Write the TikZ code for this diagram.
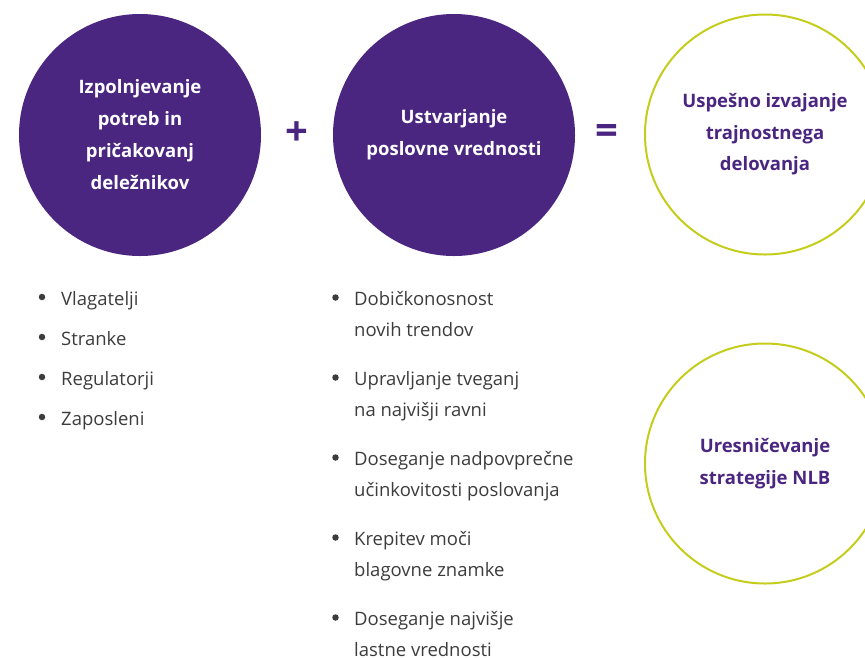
\documentclass[tikz,border=0pt]{standalone}
\usepackage{fontspec}
\setmainfont{Open Sans}
\usetikzlibrary{positioning}

\definecolor{nlbpurple}{RGB}{74,38,128}
\definecolor{nlblime}{RGB}{196,205,28}
\definecolor{listgray}{RGB}{60,60,60}

\begin{document}
\begin{tikzpicture}[
    x=1pt, y=-1pt,
    fullcircle/.style={circle, fill=nlbpurple, minimum size=242pt, inner sep=0pt, text=white, align=center, font=\bfseries\fontsize{18.5pt}{32pt}\selectfont},
    ringcircle/.style={circle, draw=nlblime, line width=2pt, minimum size=240pt, inner sep=0pt, text=nlbpurple, align=center, font=\bfseries\fontsize{18.5pt}{31.5pt}\selectfont},
    opsign/.style={text=nlbpurple, inner sep=0pt, font=\bfseries\fontsize{40pt}{40pt}\selectfont},
    bulletdot/.style={circle, fill=listgray, minimum size=6.5pt, inner sep=0pt},
    itemtext/.style={anchor=north west, align=left, inner sep=0pt, text=listgray, font=\fontsize{18.5pt}{31pt}\selectfont}
]
    \useasboundingbox (0,0) rectangle (865,657);

    % Zgornja vrsta: krogi in znaka
    \node[fullcircle] (needs) at (140,135) {
        Izpolnjevanje\\
        potreb in\\
        pričakovanj\\
        deležnikov
    };
    \node[opsign] (plus) at (297,134) {+};
    \node[fullcircle] (value) at (454,135) {
        Ustvarjanje\\
        poslovne vrednosti
    };
    \node[opsign] (equals) at (606.5,134) {=};
    \node[ringcircle] (success) at (765,134.5) {
        Uspešno izvajanje\\
        trajnostnega\\
        delovanja
    };

    % Krog spodaj desno
    \node[ringcircle] (strategy) at (765,463.5) {
        Uresničevanje\\
        strategije NLB
    };

    % Deležniki (levi seznam)
    \node[bulletdot] (dot_inv) at (42,297) {};
    \node[itemtext] (inv) at (61,283.3) {\strut Vlagatelji};
    \node[bulletdot] (dot_cli) at (42,337) {};
    \node[itemtext] (cli) at (61,323.3) {\strut Stranke};
    \node[bulletdot] (dot_reg) at (42,377) {};
    \node[itemtext] (reg) at (61,363.3) {\strut Regulatorji};
    \node[bulletdot] (dot_emp) at (42,417) {};
    \node[itemtext] (emp) at (61,403.3) {\strut Zaposleni};

    % Poslovna vrednost (srednji seznam)
    \node[bulletdot] (dot_prof) at (335.5,297.5) {};
    \node[itemtext] (prof) at (354,283.3) {\strut Dobičkonosnost\\novih trendov};
    \node[bulletdot] (dot_risk) at (335.5,377.5) {};
    \node[itemtext] (risk) at (354,363.3) {\strut Upravljanje tveganj\\na najvišji ravni};
    \node[bulletdot] (dot_eff) at (335.5,457.5) {};
    \node[itemtext] (eff) at (354,443.3) {\strut Doseganje nadpovprečne\\učinkovitosti poslovanja};
    \node[bulletdot] (dot_brand) at (335.5,537.5) {};
    \node[itemtext] (brand) at (354,523.3) {\strut Krepitev moči\\blagovne znamke};
    \node[bulletdot] (dot_own) at (335.5,617.5) {};
    \node[itemtext] (own) at (354,603.3) {\strut Doseganje najvišje\\lastne vrednosti};

\end{tikzpicture}
\end{document}
